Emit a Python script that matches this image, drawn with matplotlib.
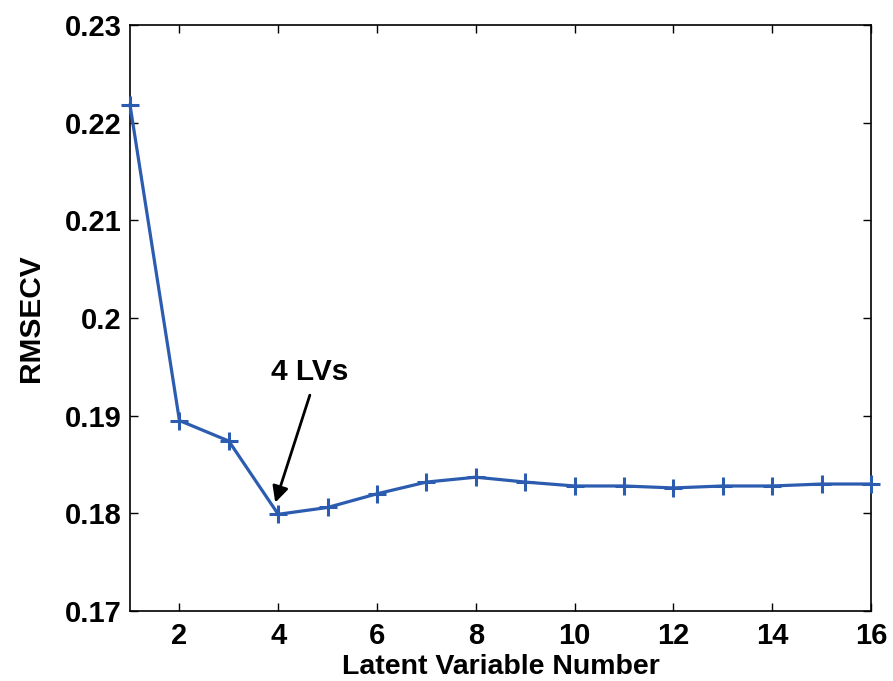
import matplotlib
matplotlib.use("Agg")
import matplotlib.pyplot as plt

lv = list(range(1, 17))
rmsecv = [0.2218, 0.1895, 0.1874, 0.1799, 0.1806, 0.1820, 0.1832, 0.1837,
          0.1832, 0.1828, 0.1828, 0.1826, 0.1828, 0.1828, 0.1830, 0.1830]
xticks = [2, 4, 6, 8, 10, 12, 14, 16]
yticks = [0.17, 0.18, 0.19, 0.2, 0.21, 0.22, 0.23]
yticklabels = ["0.17", "0.18", "0.19", "0.2", "0.21", "0.22", "0.23"]

plt.rcParams['font.family'] = ['Liberation Sans', 'DejaVu Sans']
plt.rcParams['font.weight'] = 'bold'

fig = plt.figure(figsize=(8.93, 6.81), dpi=100)
ax = fig.add_axes([0.1456, 0.1028, 0.8298, 0.8605])
ax.plot(lv, rmsecv, color='#2c5cb0', lw=2.3, marker='+', ms=13, mew=2.2,
        clip_on=False, zorder=3)
ax.set_xlim(1, 16)
ax.set_ylim(0.17, 0.23)
ax.set_xticks(xticks)
ax.set_yticks(yticks)
ax.set_yticklabels(yticklabels)
ax.tick_params(direction='in', top=True, right=True, labelsize=21, length=6,
               width=1)
ax.tick_params(axis='x', pad=8)
ax.tick_params(axis='y', pad=6)
for s in ax.spines.values():
    s.set_linewidth(1.2)
ax.set_xlabel('Latent Variable Number', fontsize=20.5, fontweight='bold', labelpad=3)
ax.set_ylabel('RMSECV', fontsize=21.5, fontweight='bold', labelpad=14)
ax.text(4.64, 0.1945, '4 LVs', fontsize=21.5, fontweight='bold',
        ha='center', va='center')
ax.annotate('', xy=(3.94, 0.1811), xytext=(4.64, 0.1921),
            arrowprops=dict(arrowstyle='-|>', color='black', lw=2,
                            mutation_scale=24, shrinkA=0, shrinkB=0))
fig.savefig('out.png', dpi=100)
